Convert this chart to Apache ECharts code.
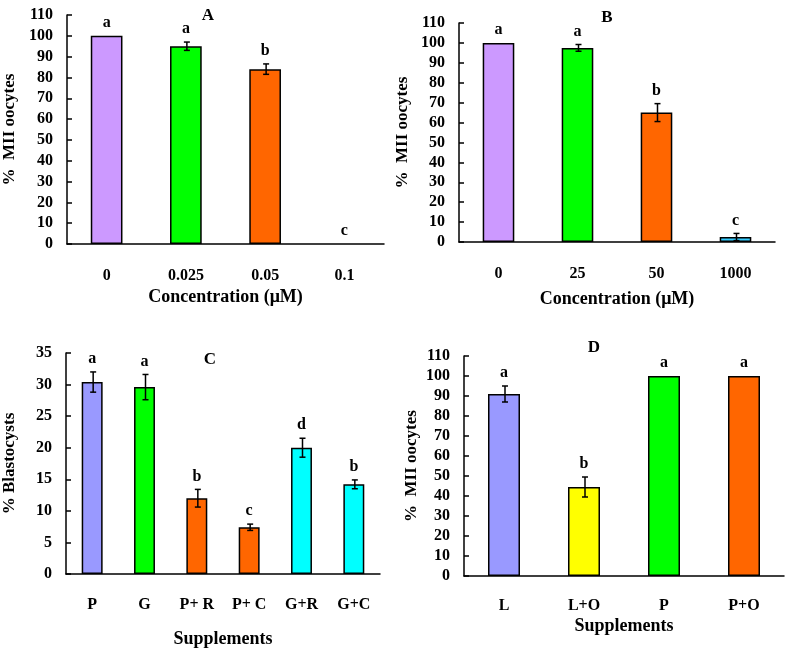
<!DOCTYPE html>
<html>
<head>
<meta charset="utf-8">
<script src="https://cdn.jsdelivr.net/npm/echarts@6/dist/echarts.min.js"></script>
<style>
html, body { margin: 0; padding: 0; background: #fff; }
#main { width: 787px; height: 649px; }
</style>
</head>
<body>
<div id="main"></div>
<script>
// panel A - concentration (uM)
var catsA = ['0', '0.025', '0.05', '0.1'];
var valsA = [100, 95, 84, 0];
var errsA = [0, 2, 2.5, 0];
var lettersA = ['a', 'a', 'b', 'c'];
var colorsA = ['#CC99FF', '#00FF00', '#FF6600', '#33CCFF'];

// panel B
var catsB = ['0', '25', '50', '1000'];
var valsB = [100, 97.5, 65, 2.5];
var errsB = [0, 1.7, 4.5, 1.8];
var lettersB = ['a', 'a', 'b', 'c'];
var colorsB = ['#CC99FF', '#00FF00', '#FF6600', '#33CCFF'];

// panel C - blastocysts
var catsC = ['P', 'G', 'P+ R', 'P+ C', 'G+R', 'G+C'];
var valsC = [30.4, 29.6, 12, 7.4, 20, 14.2];
var errsC = [1.6, 2, 1.4, 0.5, 1.5, 0.7];
var lettersC = ['a', 'a', 'b', 'c', 'd', 'b'];
var colorsC = ['#9999FF', '#00FF00', '#FF6600', '#FF6600', '#00FFFF', '#00FFFF'];

// panel D
var catsD = ['L', 'L+O', 'P', 'P+O'];
var valsD = [91, 44.5, 100, 100];
var errsD = [4, 5, 0, 0];
var lettersD = ['a', 'b', 'a', 'a'];
var colorsD = ['#9999FF', '#FFFF00', '#00FF00', '#FF6600'];

var FONT = '"Liberation Serif", "Times New Roman", serif';

var grids = [], xAxes = [], yAxes = [], seriesList = [], titles = [];

function addPanel(p) {
    var k = grids.length;
    grids.push({ left: p.left, top: p.top, width: p.width, height: p.height });
    xAxes.push({
        gridIndex: k,
        type: 'category',
        data: p.cats,
        name: p.xName,
        nameLocation: 'middle',
        nameGap: p.xNameGap,
        nameTextStyle: { fontFamily: FONT, fontWeight: 'bold', fontSize: 18, color: '#000' },
        axisLine: { lineStyle: { color: '#000', width: 1.5 } },
        axisTick: { inside: true, length: 5, lineStyle: { color: '#000', width: 1.5 } },
        axisLabel: { margin: p.xLabelMargin, fontFamily: FONT, fontWeight: 'bold', fontSize: 16, color: '#000' }
    });
    yAxes.push({
        gridIndex: k,
        type: 'value',
        min: 0,
        max: p.yMax,
        interval: p.yInterval,
        name: p.yName,
        nameLocation: 'middle',
        nameGap: p.yNameGap,
        nameRotate: 90,
        nameTextStyle: { fontFamily: FONT, fontWeight: 'bold', fontSize: 17, color: '#000' },
        splitLine: { show: false },
        axisLine: { show: true, lineStyle: { color: '#000', width: 1.5 } },
        axisTick: { show: true, inside: true, length: 5, lineStyle: { color: '#000', width: 1.5 } },
        axisLabel: { margin: 14, fontFamily: FONT, fontWeight: 'bold', fontSize: 16, color: '#000' }
    });
    seriesList.push({
        type: 'bar',
        xAxisIndex: k,
        yAxisIndex: k,
        barWidth: '40%',
        data: p.vals.map(function (v, i) {
            return {
                value: v,
                itemStyle: { color: p.colors[i], borderColor: '#000', borderWidth: v > 0 ? 1.5 : 0 }
            };
        }),
        silent: true
    });
    seriesList.push({
        type: 'custom',
        xAxisIndex: k,
        yAxisIndex: k,
        silent: true,
        z: 5,
        data: p.vals.map(function (v, i) { return [i, v, p.errs[i]]; }),
        renderItem: function (params, api) {
            var i = api.value(0), v = api.value(1), e = api.value(2);
            var top = api.coord([i, v + e]);
            var bot = api.coord([i, v - e]);
            var children = [];
            if (e > 0) {
                var x = top[0] + 1;
                children.push(
                    { type: 'line', shape: { x1: x, y1: top[1], x2: x, y2: bot[1] }, style: { stroke: '#000', lineWidth: 1.5 } },
                    { type: 'line', shape: { x1: x - 3, y1: top[1], x2: x + 3, y2: top[1] }, style: { stroke: '#000', lineWidth: 1.5 } },
                    { type: 'line', shape: { x1: x - 3, y1: bot[1], x2: x + 3, y2: bot[1] }, style: { stroke: '#000', lineWidth: 1.5 } }
                );
            }
            children.push({
                type: 'text',
                style: {
                    x: top[0],
                    y: top[1] - 5,
                    text: p.letters[params.dataIndex],
                    align: 'center',
                    verticalAlign: 'bottom',
                    font: 'bold 16px ' + FONT,
                    fill: '#000'
                }
            });
            return { type: 'group', children: children };
        }
    });
    titles.push({
        text: p.title,
        left: p.titleX,
        top: p.titleY,
        textAlign: 'center',
        textStyle: { fontFamily: FONT, fontWeight: 'bold', fontSize: 17, color: '#000' }
    });
}

addPanel({
    left: 64, top: 15, width: 320, height: 229,
    cats: catsA, vals: valsA, errs: errsA, letters: lettersA, colors: colorsA,
    yMax: 110, yInterval: 10, yName: '%  MII oocytes', yNameGap: 49,
    xName: 'Concentration (μM)', xNameGap: 44, xLabelMargin: 24,
    title: 'A', titleX: 203, titleY: 2
});
addPanel({
    left: 459, top: 23, width: 316, height: 219,
    cats: catsB, vals: valsB, errs: errsB, letters: lettersB, colors: colorsB,
    yMax: 110, yInterval: 10, yName: '%  MII oocytes', yNameGap: 48,
    xName: 'Concentration (μM)', xNameGap: 48, xLabelMargin: 24,
    title: 'B', titleX: 602, titleY: 4
});
addPanel({
    left: 62, top: 353, width: 318, height: 221,
    cats: catsC, vals: valsC, errs: errsC, letters: lettersC, colors: colorsC,
    yMax: 35, yInterval: 5, yName: '% Blastocysts', yNameGap: 48,
    xName: 'Supplements', xNameGap: 56, xLabelMargin: 23,
    title: 'C', titleX: 205, titleY: 346
});
addPanel({
    left: 464, top: 356, width: 320, height: 220,
    cats: catsD, vals: valsD, errs: errsD, letters: lettersD, colors: colorsD,
    yMax: 110, yInterval: 10, yName: '%  MII oocytes', yNameGap: 44,
    xName: 'Supplements', xNameGap: 41, xLabelMargin: 22,
    title: 'D', titleX: 589, titleY: 334
});

var chart = echarts.init(document.getElementById('main'));
chart.setOption({
    animation: false,
    backgroundColor: '#fff',
    title: titles,
    grid: grids,
    xAxis: xAxes,
    yAxis: yAxes,
    series: seriesList
});
</script>
</body>
</html>
